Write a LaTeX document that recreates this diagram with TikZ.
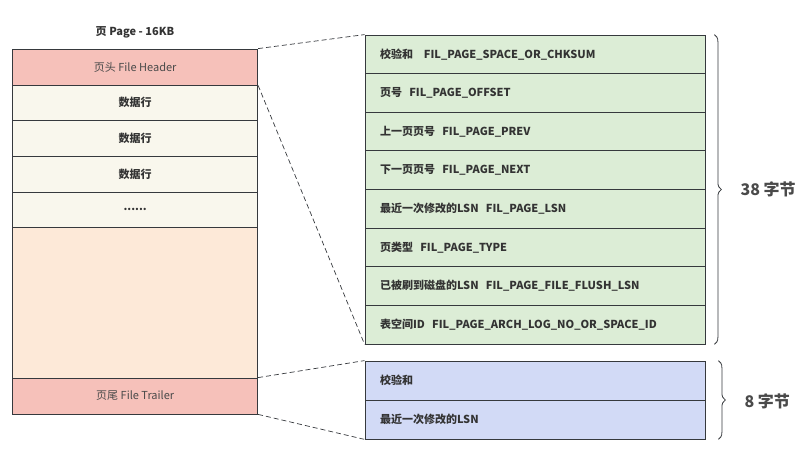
\documentclass[tikz,border=0pt]{standalone}
\usepackage{fontspec}
\setmainfont{Noto Sans CJK SC}
\usetikzlibrary{decorations.pathreplacing,calc}
\definecolor{lineC}{HTML}{36393D}
\definecolor{hdrC}{HTML}{F6C1BA}
\definecolor{rowC}{HTML}{F9F7ED}
\definecolor{freeC}{HTML}{FDE9D8}
\definecolor{grnC}{HTML}{DCEDD6}
\definecolor{bluC}{HTML}{D2DAF6}
\definecolor{txtC}{HTML}{333333}
\definecolor{lblC}{HTML}{4A4A4A}
\tikzset{
  lcell/.style={draw=lineC, line width=0.8pt, minimum width=245, inner sep=0pt, font=\fontsize{11}{13}\selectfont\bfseries, text=txtC},
  rcell/.style={draw=lineC, line width=0.8pt, minimum width=340, text width=310, align=left, inner xsep=15, inner ysep=0pt, font=\fontsize{11}{13}\selectfont\bfseries, text=txtC},
  zoomline/.style={draw=lineC, dashed, dash pattern=on 5pt off 3pt, line width=0.7pt},
  bracestyle/.style={draw=lineC, line width=0.8pt, decorate, decoration={brace, amplitude=7pt}},
  sizelbl/.style={font=\fontsize{16}{18}\selectfont\bfseries, text=lblC, anchor=west}
}
\begin{document}
\begin{tikzpicture}[x=1pt,y=-1pt]
\useasboundingbox (0,0) rectangle (807,454);
% left page
\node[font=\fontsize{11}{13}\selectfont\bfseries, text=txtC] (title) at (135,32) {页 Page - 16KB};
\node[lcell, fill=hdrC, minimum height=36, font=\fontsize{11}{13}\selectfont, text=lblC] (hdr) at (135.2,67) {页头 File Header};
\node[lcell, fill=rowC, minimum height=35] (r1) at (135.2,102.5) {数据行};
\node[lcell, fill=rowC, minimum height=36] (r2) at (135.2,138) {数据行};
\node[lcell, fill=rowC, minimum height=36] (r3) at (135.2,174) {数据行};
\node[lcell, fill=rowC, minimum height=35] (r4) at (135.2,209.5) {......};
\node[lcell, fill=freeC, minimum height=151] (free) at (135.2,302.5) {};
\node[lcell, fill=hdrC, minimum height=36, font=\fontsize{11}{13}\selectfont, text=lblC] (trl) at (135.2,396) {页尾 File Trailer};
% green header table
\foreach \i/\t in {1/{校验和\ \ \ FIL\_PAGE\_SPACE\_OR\_CHKSUM},
                   2/{页号\ \ FIL\_PAGE\_OFFSET},
                   3/{上一页页号\ \ FIL\_PAGE\_PREV},
                   4/{下一页页号\ \ FIL\_PAGE\_NEXT},
                   5/{最近一次修改的LSN\ \ FIL\_PAGE\_LSN},
                   6/{页类型\ \ FIL\_PAGE\_TYPE},
                   7/{已被刷到磁盘的LSN\ \ FIL\_PAGE\_FILE\_FLUSH\_LSN},
                   8/{表空间ID\ \ FIL\_PAGE\_ARCH\_LOG\_NO\_OR\_SPACE\_ID}}
  \node[rcell, fill=grnC, minimum height=38.625] (g\i) at (535, {35+38.625*(\i-0.5)}) {\t};
% blue trailer table
\node[rcell, fill=bluC, minimum height=39] (b1) at (535,380.5) {校验和};
\node[rcell, fill=bluC, minimum height=39] (b2) at (535,419.5) {最近一次修改的LSN};
% zoom lines
\draw[zoomline] (hdr.north east) -- (g1.north west);
\draw[zoomline] (hdr.south east) -- (g8.south west);
\draw[zoomline] (trl.north east) -- (b1.north west);
\draw[zoomline] (trl.south east) -- (b2.south west);
% braces
\coordinate (gb1) at ($(g1.north east)+(9,0)$);
\coordinate (gb2) at ($(g8.south east)+(9,0)$);
\coordinate (bb1) at ($(b1.north east)+(13,0)$);
\coordinate (bb2) at ($(b2.south east)+(13,0)$);
\draw[bracestyle] (gb1) -- (gb2);
\draw[bracestyle] (bb1) -- (bb2);
\node[sizelbl] (l38) at (737,189) {38 字节};
\node[sizelbl] (l8) at (741,401) {8 字节};
\end{tikzpicture}
\end{document}
